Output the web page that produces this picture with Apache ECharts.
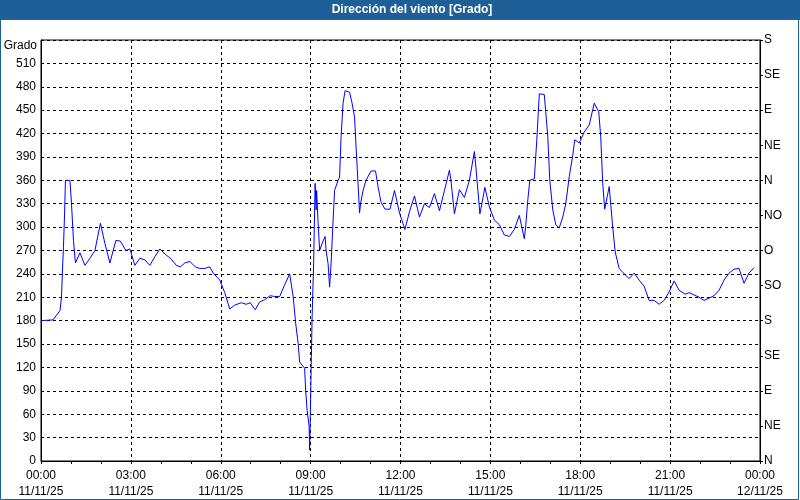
<!DOCTYPE html>
<html><head><meta charset="utf-8">
<script src="https://cdn.jsdelivr.net/npm/echarts@6/dist/echarts.min.js"></script>
<style>html,body{margin:0;padding:0;background:#fff}#c{width:800px;height:500px}</style>
</head><body><div id="c"></div>
<script>
// time in minutes since 00:00 11/11/25
const minutes = [0,24,38,41,43,45,47,49,58,61,65,69,78,88,98,108,119,128,138,150,159,170,178,188,198,208,218,228,238,251,261,271,279,288,298,309,318,328,338,345,358,368,378,388,401,411,419,429,438,448,459,468,478,488,498,505,510,515,518,528,530,533,537,538,539,541,543,546,549,551,552,555,558,563,569,571,575,578,581,585,588,595,598,601,605,609,618,623,628,631,635,638,640,645,651,661,670,675,681,689,699,708,718,729,738,748,758,768,778,788,798,808,818,821,828,838,848,858,868,871,875,879,883,889,898,908,918,928,938,948,958,963,968,971,975,979,988,993,998,1008,1015,1019,1025,1031,1038,1045,1051,1058,1065,1069,1078,1088,1098,1108,1117,1121,1125,1129,1134,1138,1145,1150,1158,1168,1178,1188,1198,1208,1218,1228,1238,1248,1258,1268,1278,1290,1298,1308,1318,1328,1338,1348,1358,1368,1378,1388,1398,1408,1418,1428];
const grados = [180,181,193,210,245,275,313,360,360,331,283,254,267,251,260,270,305,279,254,283,282,270,272,251,260,258,251,262,272,264,259,251,249,254,256,249,247,247,249,241,232,216,195,200,203,201,203,194,204,207,212,211,211,226,240,211,177,151,127,119,91,65,44,14,44,117,185,253,356,322,347,305,270,279,288,270,253,223,254,309,347,360,364,416,459,475,473,459,441,403,356,318,330,347,360,372,372,352,332,323,323,347,318,297,320,340,313,330,325,343,321,347,373,360,317,348,338,360,397,377,347,317,330,351,326,309,303,290,288,297,315,300,285,303,335,360,362,412,471,470,416,360,322,303,299,313,330,365,392,412,408,422,431,459,448,416,356,323,339,352,300,268,247,240,234,241,232,224,206,206,201,206,217,231,219,214,216,213,210,206,209,212,219,232,241,246,247,228,241,248];
const xTickLabels = ['00:00\n11/11/25','03:00\n11/11/25','06:00\n11/11/25','09:00\n11/11/25','12:00\n11/11/25','15:00\n11/11/25','18:00\n11/11/25','21:00\n11/11/25','00:00\n12/11/25'];
const rumbos = ['N','NE','E','SE','S','SO','O','NO','N','NE','E','SE','S'];
const titulo = 'Dirección del viento [Grado]';
const unidad = 'Grado';

const FONT = 'Liberation Sans';
const chart = echarts.init(document.getElementById('c'), null, {renderer:'canvas'});
const dashed = {show:true, lineStyle:{color:'#000', type:[3,3], width:1}};
chart.setOption({
  animation:false,
  backgroundColor:'#ffffff',
  grid:{left:41, right:40, top:40, bottom:39, show:true, borderColor:'#000', borderWidth:1},
  xAxis:{
    type:'value', min:0, max:1440, interval:180,
    axisLine:{show:true, lineStyle:{color:'#000'}},
    axisTick:{show:true, length:3, lineStyle:{color:'#000'}},
    minorTick:{show:true, splitNumber:3, length:3, lineStyle:{color:'#000'}},
    splitLine:dashed,
    axisLabel:{formatter:v=>xTickLabels[Math.round(v/180)], color:'#000', fontFamily:FONT, fontSize:12, lineHeight:16, margin:7}
  },
  yAxis:[{
    type:'value', min:0, max:540, interval:30, position:'left',
    axisLine:{show:true, lineStyle:{color:'#000'}},
    axisTick:{show:false},
    splitLine:dashed,
    axisLabel:{formatter:v=>v===540?'':String(v), color:'#000', fontFamily:FONT, fontSize:12, margin:5}
  },{
    type:'value', min:0, max:540, interval:45, position:'right',
    axisLine:{show:true, onZero:false, lineStyle:{color:'#000'}},
    axisTick:{show:true, length:3, lineStyle:{color:'#000'}},
    splitLine:{show:false},
    axisLabel:{formatter:v=>rumbos[Math.round(v/45)], color:'#000', fontFamily:FONT, fontSize:12, margin:4, padding:[4,0,0,0]}
  }],
  series:[{
    type:'line', yAxisIndex:0,
    data:minutes.map((m,i)=>[m, grados[i]]),
    showSymbol:false, symbol:'none',
    lineStyle:{color:'#0000ff', width:1},
    itemStyle:{color:'#0000ff'}
  }],
  graphic:[
    {type:'rect', shape:{x:0,y:0,width:800,height:20}, style:{fill:'#1d5f96'}, z:10},
    {type:'text', x:412, y:10, style:{text:titulo, fill:'#fff', font:'bold 12px "Liberation Sans"', align:'center', verticalAlign:'middle'}, z:11},
    {type:'text', x:37, y:46, style:{text:unidad, fill:'#000', font:'12px "Liberation Sans"', align:'right', verticalAlign:'middle'}, z:11},
    {type:'rect', shape:{x:0.5,y:0.5,width:798,height:499}, style:{fill:null, stroke:'#1d5f96', lineWidth:1}, z:12}
  ]
});
</script></body></html>
